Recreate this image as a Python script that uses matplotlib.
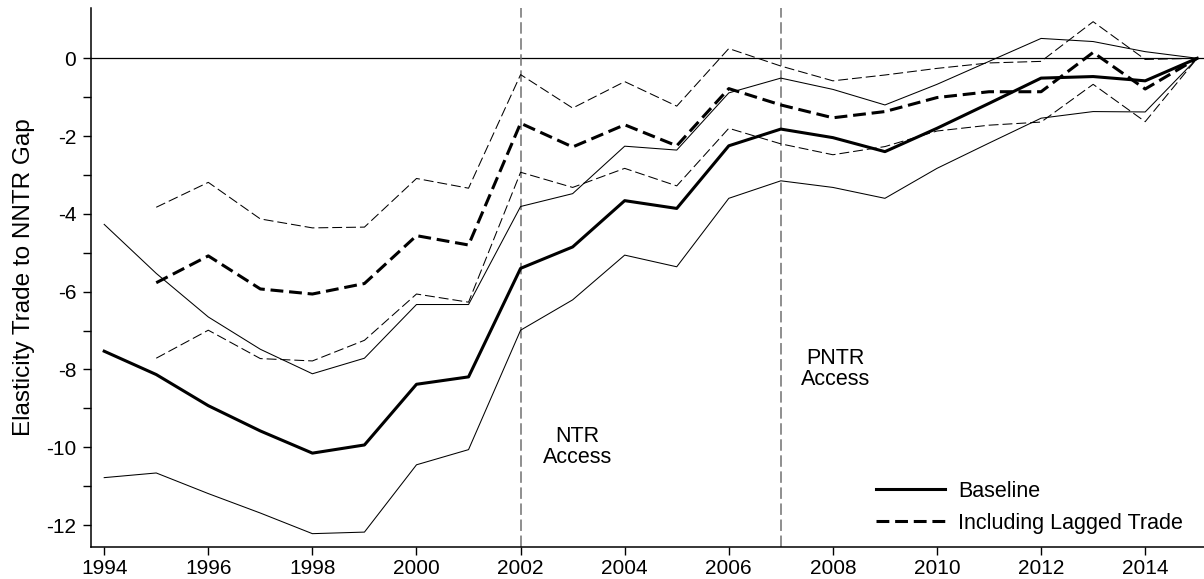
import matplotlib
matplotlib.use("Agg")
import matplotlib.pyplot as plt
import numpy as np

plt.rcParams['font.family'] = ['Liberation Sans', 'DejaVu Sans']
plt.rcParams['axes.unicode_minus'] = False

# baseline estimates, 1994-2015
years_base = np.arange(1994, 2016)
base = [-7.53, -8.13, -8.93, -9.58, -10.15, -9.94, -8.38, -8.19, -5.40, -4.85, -3.66,
        -3.86, -2.25, -1.82, -2.04, -2.40, -1.80, -1.16, -0.51, -0.47, -0.58, 0.0]
base_hi = [-4.27, -5.53, -6.65, -7.48, -8.11, -7.71, -6.33, -6.33, -3.81, -3.48, -2.26,
           -2.36, -0.89, -0.51, -0.80, -1.20, -0.67, -0.08, 0.51, 0.43, 0.17, 0.0]
base_lo = [-10.78, -10.66, -11.19, -11.69, -12.22, -12.18, -10.45, -10.06, -6.99, -6.21, -5.06,
           -5.36, -3.60, -3.15, -3.32, -3.60, -2.83, -2.18, -1.54, -1.37, -1.38, 0.0]

# including lagged trade, 1995-2015
years_lag = np.arange(1995, 2016)
lag = [-5.77, -5.08, -5.93, -6.06, -5.79, -4.56, -4.80, -1.67, -2.28, -1.71, -2.25,
       -0.78, -1.20, -1.53, -1.37, -1.01, -0.86, -0.86, 0.15, -0.79, 0.0]
lag_hi = [-3.83, -3.19, -4.13, -4.36, -4.34, -3.09, -3.34, -0.42, -1.28, -0.60, -1.23,
          0.25, -0.20, -0.58, -0.43, -0.26, -0.12, -0.08, 0.94, -0.03, 0.0]
lag_lo = [-7.71, -6.99, -7.72, -7.78, -7.25, -6.06, -6.27, -2.93, -3.32, -2.83, -3.28,
          -1.80, -2.20, -2.48, -2.27, -1.87, -1.72, -1.64, -0.67, -1.63, 0.0]

events = [2002, 2007]
event_labels = ["NTR\nAccess", "PNTR\nAccess"]
event_label_pos = [(2003.09, -10.0), (2008.05, -8.0)]

fig = plt.figure(figsize=(12.04, 5.79), dpi=100)
ax = fig.add_axes([0.0753, 0.0558, 0.9247, 0.9299])

ax.axhline(0, color='black', lw=0.9, zorder=1)
for yr in events:
    ax.axvline(yr, color='#707070', lw=1.1, dashes=(7.5, 3), zorder=1)

thin_dash = (9.5, 3.8)
ax.plot(years_base, base_hi, color='black', lw=0.75)
ax.plot(years_base, base_lo, color='black', lw=0.75)
ax.plot(years_lag, lag_hi, color='black', lw=0.75, dashes=thin_dash)
ax.plot(years_lag, lag_lo, color='black', lw=0.75, dashes=thin_dash)
ax.plot(years_base, base, color='black', lw=2.2, label='Baseline')
ax.plot(years_lag, lag, color='black', lw=2.2, dashes=(4.2, 1.9), label='Including Lagged Trade')

for txt, (x, y) in zip(event_labels, event_label_pos):
    ax.text(x, y, txt, ha='center', va='center', fontsize=15.5, linespacing=1.0)

ax.set_xlim(1993.74, 2015.13)
ax.set_ylim(-12.555, 1.285)
ax.set_xticks(np.arange(1994, 2015, 2))
ax.set_yticks(np.arange(-12, 1, 2))
ax.set_yticks(np.arange(-11, 1, 2), minor=True)
ax.tick_params(axis='both', which='both', direction='out', length=5.8, width=1.0,
               labelsize=15, colors='black')
ax.tick_params(axis='y', pad=4.5)
ax.tick_params(axis='x', pad=3)
ax.spines['top'].set_visible(False)
ax.spines['right'].set_visible(False)
ax.spines['left'].set_linewidth(1.1)
ax.spines['bottom'].set_linewidth(1.1)
ax.set_ylabel('Elasticity Trade to NNTR Gap', fontsize=17.5, labelpad=8)

ax.legend(loc='upper left', bbox_to_anchor=(0.7054, 0.122), frameon=False,
          fontsize=15.5, handlelength=3.2, handletextpad=0.6, borderpad=0,
          borderaxespad=0, labelspacing=0.5)

fig.savefig('out.png', dpi=100)
